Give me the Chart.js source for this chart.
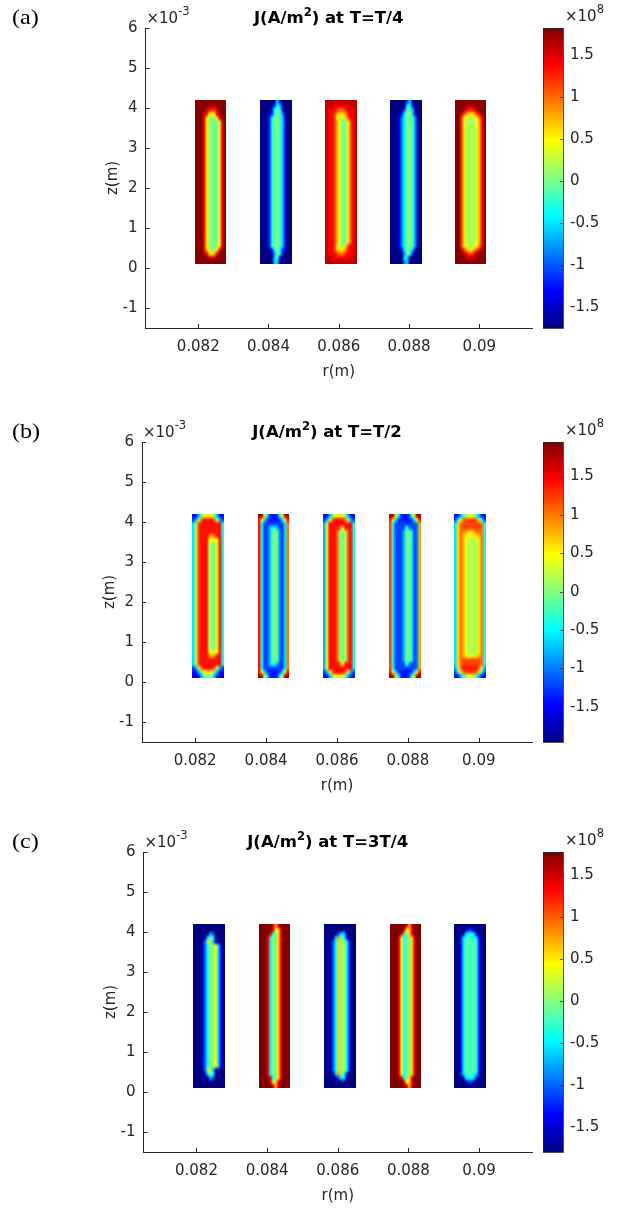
<!DOCTYPE html>
<html>
<head>
<meta charset="utf-8">
<script src="https://cdn.jsdelivr.net/npm/chart.js@4.4.1/dist/chart.umd.min.js"></script>
<style>
  html, body { margin: 0; padding: 0; background: #fff; }
  body { position: relative; width: 623px; height: 1211px; overflow: hidden; }
  canvas { position: absolute; left: 0; }
</style>
</head>
<body>
<canvas id="panelA" width="623" height="414" style="top:0px"></canvas>
<canvas id="panelB" width="623" height="410" style="top:414px"></canvas>
<canvas id="panelC" width="623" height="387" style="top:824px"></canvas>
<script>
// axes (r in m, z in 1e-3 m, J in 1e8 A/m^2)
const rTicks = [0.082, 0.084, 0.086, 0.088, 0.09];
const zTicks = [-1, 0, 1, 2, 3, 4, 5, 6];
const cbTicks = [-1.5, -1, -0.5, 0, 0.5, 1, 1.5];
const rRange = [0.0805, 0.0915];
const zRange = [-1.5, 6];

// conductor cross sections
const coilLeft = [0.0819, 0.08376, 0.08561, 0.08747, 0.0893];
const coilWidth = 0.0009;
const coilZ = [0.1, 4.2];

// colour levels: code letter -> J (x1e8)
const levelCodes = 'abcdefghijklmnopqrs';
const levelValues = [-1.8, -1.6, -1.4, -1.2, -1.0, -0.8, -0.6, -0.4, -0.2, 0,
  0.2, 0.4, 0.6, 0.8, 1.0, 1.2, 1.4, 1.6, 1.8];

const panelNames = ['(a)', '(b)', '(c)'];
const panelTimes = ['T/4', 'T/2', '3T/4'];
const colorLimits = [[-1.743, 1.823], [-1.96, 1.95], [-1.80, 1.78]];

// each conductor: [row count, 12 columns left->right], rows from top to bottom
const fieldA = [
  [[1, 'ssssssssssss'], [1, 'sssssrrrssss'], [1, 'ssssrqppqsss'], [1, 'sssrqmlmqrss'],
   [1, 'sssqmkjkmqss'], [31, 'sssqmkjjjlqs'], [1, 'sssqmkjjkmqs'], [1, 'sssqnljkmqss'],
   [1, 'ssssqnmnqsss'], [1, 'sssssrrrssss'], [1, 'ssssssssssss']],
  [[1, 'aaaaabgdaaaa'], [1, 'aaaabehgbaaa'], [1, 'aaabdhjhdaaa'], [1, 'aaabdhjifbaa'],
   [33, 'aabdhjjigcaa'], [1, 'aaabdhjhdbaa'], [1, 'aaaabfjhcaaa'], [1, 'aaaabgicaaaa'],
   [1, 'aaaaaggbaaaa']],
  [[1, 'rrrrrrrrrrrr'], [1, 'rrrqqqqqqrrr'], [1, 'rqqqpoopqqqr'], [1, 'rqqpnmmnpqqr'],
   [1, 'rqqpmkkmoqqr'], [31, 'rqqpnljjloqr'], [1, 'rqqpmkkmoqqr'], [1, 'rqqpnmmnpqqr'],
   [1, 'rqqqpoopqqqr'], [1, 'rrrqqqqqqrrr'], [1, 'rrrrrrrrrrrr']],
  [[1, 'aaaaaaegbaaa'], [1, 'aaaaabhhdaaa'], [1, 'aaaabejigbaa'], [1, 'aaabdhjjgbaa'],
   [33, 'aabcfhjjifba'], [1, 'aaabdhjigbaa'], [1, 'aaaabfjhcaaa'], [1, 'aaaabhgbaaaa'],
   [1, 'aaaaafgaaaaa']],
  [[1, 'ssssssssssss'], [1, 'ssssrrrrssss'], [1, 'sssrqppqrsss'], [1, 'ssrpnmmnpqss'],
   [1, 'sspmlkklmoqs'], [31, 'sspmkkkklnqs'], [1, 'sspmlkklmoqs'], [1, 'ssrpnmmnpqss'],
   [1, 'sssrqppqrsss'], [1, 'ssssrrrrssss'], [1, 'ssssssssssss']]
];
const fieldB = [
  [[1, 'ccfilmmlifcc'], [1, 'dfkoqqqqokfd'], [3, 'gkpqqqqqqqqh'], [1, 'gkpqqqonoqqh'],
   [1, 'gkpqqqmllmqh'], [27, 'gkpqqqkjjmqh'], [1, 'gkpqqqmllmqh'], [1, 'gkpqqqonoqqh'],
   [2, 'gkpqqqqqqqqh'], [1, 'dfkoqqqqokfd'], [1, 'ccfilmmlifcc'], [1, 'bbcfijjifcbb']],
  [[1, 'ssmhdccdhmss'], [1, 'qlgdccccdglq'], [1, 'qhddddddddgo'], [1, 'qhddfhhfddgo'],
   [33, 'qhddfijiedgo'], [1, 'qhddfhhfddgo'], [1, 'qhddddddddgo'], [1, 'qlgdccccdglq'],
   [1, 'ssmhdccdhmss']],
  [[1, 'ccfilmmlifcc'], [1, 'dfkoqqqqokfd'], [1, 'flqqqqqqqqqh'], [1, 'flqqqqomqqqh'],
   [33, 'flqqqojjkpqh'], [1, 'flqqqqomqqqh'], [1, 'flqqqqqqqqqh'], [1, 'dfkoqqqqokfd'],
   [1, 'ccfilmmlifcc']],
  [[1, 'ssmhdccdhmss'], [1, 'qlgdccccdglq'], [1, 'phdddddddden'], [1, 'phddddhfdden'],
   [33, 'phdddfijhden'], [1, 'phddddhfdden'], [1, 'phdddddddden'], [1, 'qlgdccccdglq'],
   [1, 'ssmhdccdhmss']],
  [[1, 'ccfhkllkhfcc'], [1, 'dhmoppppomhd'], [2, 'gmopppppppoh'], [1, 'gmoonmmnoooh'],
   [1, 'gmonmllmmnoh'], [29, 'gmonlkkkkmoh'], [1, 'gmonmllmmnoh'], [2, 'gmopppppppoh'],
   [1, 'fkoqqqqqqokf'], [1, 'dhmoppppomhd'], [1, 'ccfhkllkhfcc']]
];
const fieldC = [
  [[2, 'aaaaaaaaaaaa'], [1, 'aaaaabfeaaaa'], [1, 'aaaabgjhbaaa'], [1, 'aaabejmgcaaa'],
   [31, 'aaabehjjlgca'], [1, 'aaabejmgcaaa'], [1, 'aaaabgjhbaaa'], [1, 'aaaaabfeaaaa'],
   [2, 'aaaaaaaaaaaa']],
  [[1, 'sssssqnqssss'], [1, 'sssssqkmqsss'], [1, 'ssssqhjmqsss'], [35, 'sssqhjjmqsss'],
   [1, 'ssssqhjmqsss'], [1, 'ssssqkmqssss'], [1, 'sssssqnqssss']],
  [[2, 'aaaaaaaaaaaa'], [1, 'aaaabeggbaaa'], [1, 'aaabgnjhdaaa'], [33, 'aabehmjkhdaa'],
   [1, 'aaabgnjhdaaa'], [1, 'aaaabeggbaaa'], [2, 'aaaaaaaaaaaa']],
  [[1, 'ssssssqnqsss'], [1, 'sssssqlmqsss'], [1, 'ssssqhjmqsss'], [35, 'sssqlhjjmqss'],
   [1, 'ssssqhjmqsss'], [1, 'sssssqlmqsss'], [1, 'ssssssqnqsss']],
  [[1, 'aaaaaaaaaaaa'], [1, 'aaaabddbaaaa'], [1, 'aaabghhgcaaa'], [1, 'aacghiihgcaa'],
   [33, 'aacgiiiihcaa'], [1, 'aacghiihgcaa'], [1, 'aaabghhgcaaa'], [1, 'aaaabddbaaaa'],
   [1, 'aaaaaaaaaaaa']]
];
const fields = [fieldA, fieldB, fieldC];

const AXIS = '#262626';
const FONT = 'DejaVu Sans, Verdana, sans-serif';

// MATLAB jet, returns [r, g, b]
function jet(t) {
  t = Math.min(1, Math.max(0, t));
  const c = (k) => Math.round(255 * Math.min(1, Math.max(0, 1.5 - Math.abs(4 * t - k))));
  return [c(3), c(2), c(1)];
}

function buildCells(field) {
  const cells = [];
  field.forEach((rows, k) => {
    const lines = [];
    rows.forEach(([n, s]) => { for (let i = 0; i < n; i++) lines.push(s); });
    const h = (coilZ[1] - coilZ[0]) / lines.length;
    lines.forEach((s, i) => {
      const w = coilWidth / s.length;
      [...s].forEach((ch, j) => {
        cells.push({
          x: coilLeft[k] + (j + 0.5) * w,
          y: coilZ[1] - (i + 0.5) * h,
          v: levelValues[levelCodes.indexOf(ch)],
          w, h, coil: k, col: j, row: i
        });
      });
    });
  });
  return cells;
}

// paints each conductor's cells as one interpolated patch (like shading interp)
const fieldPlugin = {
  id: 'fieldPlugin',
  beforeDatasetsDraw(chart, args, opts) {
    const { ctx, scales: { x, y } } = chart;
    const [lo, hi] = opts.limits;
    const groups = {};
    chart.data.datasets[0].data.forEach((p) => { (groups[p.coil] = groups[p.coil] || []).push(p); });
    ctx.save();
    ctx.imageSmoothingEnabled = true;
    ctx.imageSmoothingQuality = 'high';
    Object.values(groups).forEach((cells) => {
      const nc = Math.max(...cells.map((p) => p.col)) + 1;
      const nr = Math.max(...cells.map((p) => p.row)) + 1;
      const off = document.createElement('canvas');
      off.width = nc; off.height = nr;
      const octx = off.getContext('2d');
      const img = octx.createImageData(nc, nr);
      let r0 = Infinity, r1 = -Infinity, z0 = Infinity, z1 = -Infinity;
      cells.forEach((p) => {
        const [R, G, B] = jet((p.v - lo) / (hi - lo));
        const o = (p.row * nc + p.col) * 4;
        img.data[o] = R; img.data[o + 1] = G; img.data[o + 2] = B; img.data[o + 3] = 255;
        r0 = Math.min(r0, p.x - p.w / 2); r1 = Math.max(r1, p.x + p.w / 2);
        z0 = Math.min(z0, p.y - p.h / 2); z1 = Math.max(z1, p.y + p.h / 2);
      });
      octx.putImageData(img, 0, 0);
      const px0 = Math.round(x.getPixelForValue(r0));
      const px1 = Math.round(x.getPixelForValue(r1));
      const py0 = Math.round(y.getPixelForValue(z1));
      const py1 = Math.round(y.getPixelForValue(z0));
      ctx.drawImage(off, px0, py0, px1 - px0, py1 - py0);
    });
    ctx.restore();
  },
  afterDraw(chart, args, opts) {
    const { ctx, chartArea: a, scales: { x, y, cb } } = chart;
    const [lo, hi] = opts.limits;
    ctx.save();
    // inward ticks
    ctx.strokeStyle = AXIS;
    ctx.lineWidth = 1;
    ctx.beginPath();
    x.ticks.forEach((t, i) => {
      const px = Math.round(x.getPixelForTick(i)) + 0.5;
      ctx.moveTo(px, a.bottom); ctx.lineTo(px, a.bottom - 4);
    });
    y.ticks.forEach((t, i) => {
      const py = Math.round(y.getPixelForTick(i)) + 0.5;
      ctx.moveTo(a.left, py); ctx.lineTo(a.left + 4, py);
    });
    ctx.stroke();

    // colour bar
    const bl = a.right + 11, bw = 20;
    for (let py = Math.floor(cb.top); py < cb.bottom; py++) {
      const v = cb.getValueForPixel(py + 0.5);
      const [R, G, B] = jet((v - lo) / (hi - lo));
      ctx.fillStyle = `rgb(${R},${G},${B})`;
      ctx.fillRect(bl, py, bw, 1);
    }
    ctx.strokeStyle = AXIS;
    ctx.lineWidth = 0.8;
    ctx.strokeRect(bl + 0.5, cb.top + 0.5, bw, cb.bottom - cb.top);
    ctx.beginPath();
    cb.ticks.forEach((t, i) => {
      const py = Math.round(cb.getPixelForTick(i)) + 0.5;
      ctx.moveTo(bl + bw, py); ctx.lineTo(bl + bw - 3, py);
    });
    ctx.stroke();

    // panel letter
    ctx.fillStyle = '#000';
    ctx.textBaseline = 'alphabetic';
    ctx.textAlign = 'left';
    ctx.save();
    ctx.scale(1.15, 1);
    ctx.font = '21px Liberation Serif, Times New Roman, serif';
    ctx.fillText(opts.name, 12 / 1.15, 24);
    ctx.restore();

    // exponent labels
    ctx.fillStyle = AXIS;
    const sup = (x0, yb, base, power) => {
      ctx.font = `15px ${FONT}`;
      ctx.fillText(base, x0, yb);
      const w = ctx.measureText(base).width;
      ctx.font = `11.5px ${FONT}`;
      ctx.fillText(power, x0 + w, yb - 8);
    };
    sup(a.left + 1, 23, '\u00d710', '-3');
    sup(a.right + 33, 21, '\u00d710', '8');

    // title with superscript
    ctx.fillStyle = '#000';
    const parts = [['J(A/m', 'bold 16.5px', 0], ['2', 'bold 11.5px', -7], [`) at T=${opts.time}`, 'bold 16.5px', 0]];
    let total = 0;
    parts.forEach(([s, f]) => { ctx.font = `${f} ${FONT}`; total += ctx.measureText(s).width; });
    let tx = (a.left + a.right) / 2 - 10 - total / 2;
    parts.forEach(([s, f, dy]) => {
      ctx.font = `${f} ${FONT}`;
      ctx.fillText(s, tx, 23 + dy);
      tx += ctx.measureText(s).width;
    });
    ctx.restore();
  }
};

const panelLayout = [
  { id: 'panelA', height: 414, left: 145.5 },
  { id: 'panelB', height: 410, left: 142 },
  { id: 'panelC', height: 387, left: 143.5 }
];

// keep tick-label overhang from pushing the plot box around
const noPad = (s) => { s.paddingTop = 0; s.paddingBottom = 0; };

panelLayout.forEach((p, k) => {
  const tickFont = { family: FONT, size: 15 };
  new Chart(document.getElementById(p.id), {
    type: 'scatter',
    data: {
      datasets: [{ data: buildCells(fields[k]), pointRadius: 0, showLine: false }]
    },
    plugins: [fieldPlugin],
    options: {
      responsive: false,
      animation: false,
      devicePixelRatio: 1,
      events: [],
      layout: { autoPadding: false, padding: { left: p.left - 45, right: 623 - 532 - 80, top: 28, bottom: p.height - 328 - 60 } },
      plugins: {
        legend: { display: false },
        tooltip: { enabled: false },
        fieldPlugin: { limits: colorLimits[k], name: panelNames[k], time: panelTimes[k] }
      },
      scales: {
        x: {
          type: 'linear', min: rRange[0], max: rRange[1],
          afterBuildTicks: (s) => { s.ticks = rTicks.map((v) => ({ value: v })); },
          afterFit: (s) => { s.height = 60; s.paddingLeft = 0; s.paddingRight = 0; },
          grid: { display: false, drawTicks: false },
          border: { display: true, color: AXIS, width: 1 },
          ticks: { color: AXIS, font: tickFont, padding: 10, maxRotation: 0, callback: (v) => String(v) },
          title: { display: true, text: 'r(m)', color: AXIS, font: { family: FONT, size: 15 }, padding: { top: 0, bottom: 7 } }
        },
        y: {
          type: 'linear', min: zRange[0], max: zRange[1],
          afterBuildTicks: (s) => { s.ticks = zTicks.map((v) => ({ value: v })); },
          afterFit: (s) => { s.width = 45; noPad(s); },
          grid: { display: false, drawTicks: false },
          border: { display: true, color: AXIS, width: 1 },
          ticks: { color: AXIS, font: tickFont, padding: 8, callback: (v) => String(v) },
          title: { display: true, text: 'z(m)', color: AXIS, font: { family: FONT, size: 15 }, padding: { top: 4, bottom: 0 } }
        },
        cb: {
          type: 'linear', position: 'right', axis: 'y',
          min: colorLimits[k][0], max: colorLimits[k][1],
          afterBuildTicks: (s) => { s.ticks = cbTicks.map((v) => ({ value: v })); },
          afterFit: (s) => { s.width = 80; noPad(s); },
          grid: { display: false, drawTicks: false },
          border: { display: false },
          ticks: { color: AXIS, font: tickFont, padding: 38, callback: (v) => String(v) }
        }
      }
    }
  });
});
</script>
</body>
</html>
